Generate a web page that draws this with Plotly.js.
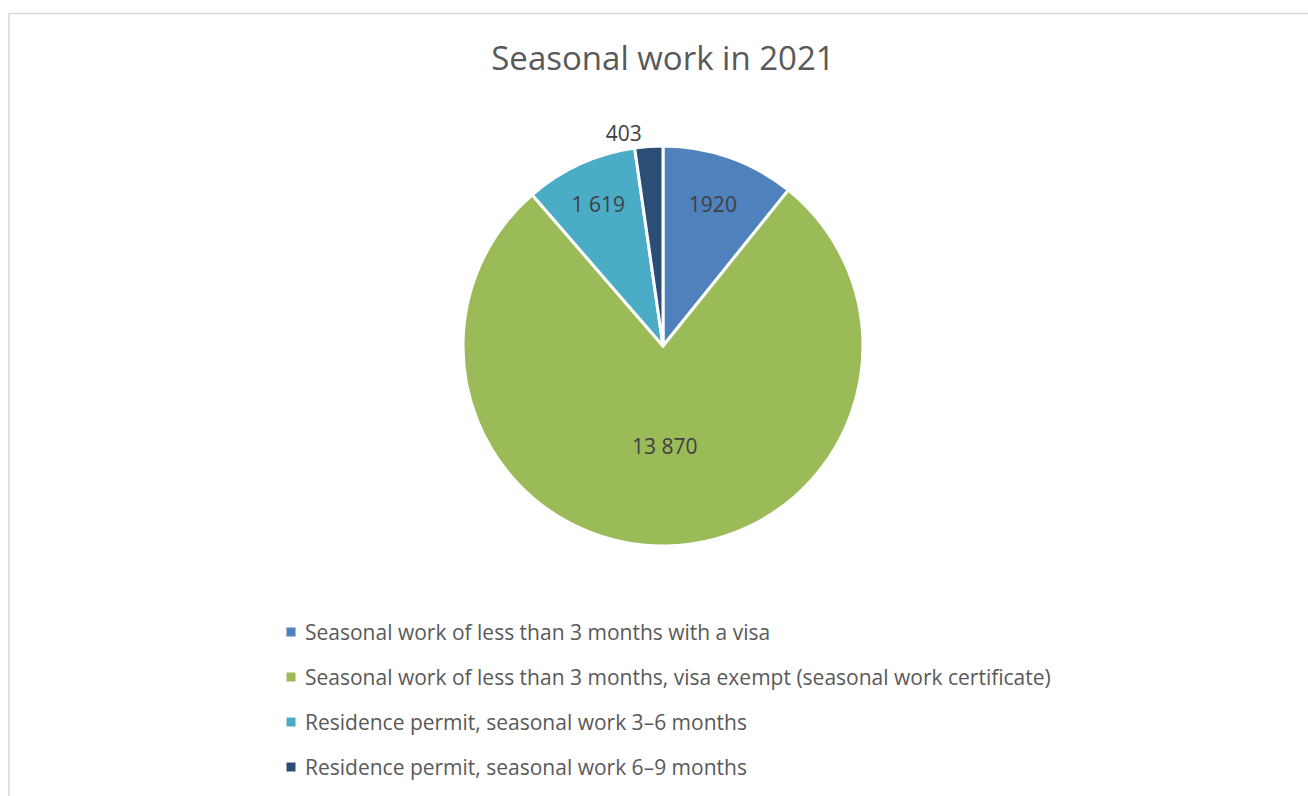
<!DOCTYPE html>
<html>
<head>
<meta charset="utf-8">
<script src="https://cdn.plot.ly/plotly-3.0.1.min.js"></script>
<style>
  html, body { margin: 0; padding: 0; background: #fff; }
  #chart { width: 1308px; height: 796px; }
</style>
</head>
<body>
<div id="chart"></div>
<script>
const chartTitle = "Seasonal work in 2021";
const categories = [
  "Seasonal work of less than 3 months with a visa",
  "Seasonal work of less than 3 months, visa exempt (seasonal work certificate)",
  "Residence permit, seasonal work 3\u20136 months",
  "Residence permit, seasonal work 6\u20139 months"
];
const values = [1920, 13870, 1619, 403];
const valueLabels = ["1920", "13 870", "1 619", "403"];
const colors = ["#4F81BD", "#9BBB59", "#4BACC6", "#2C4D75"];

const W = 1308, H = 796;
const FONT = "'Open Sans', 'Noto Sans', sans-serif";

const trace = {
  type: "pie",
  labels: categories,
  values: values,
  text: valueLabels,
  textinfo: "text",
  textposition: ["inside", "inside", "inside", "outside"],
  insidetextorientation: "horizontal",
  sort: false,
  direction: "clockwise",
  rotation: 0,
  marker: { colors: colors, line: { color: "#ffffff", width: 3 } },
  textfont: { family: FONT, size: 21, color: "#404040" },
  insidetextfont: { family: FONT, size: 21, color: "#404040" },
  outsidetextfont: { family: FONT, size: 21, color: "#404040" },
  hoverinfo: "label+value",
  showlegend: false,
  domain: { x: [463 / W, 863 / W], y: [1 - 546 / H, 1 - 146 / H] }
};

// Legend drawn as annotations + square shapes (built from categories/colors)
const legendTop = 632, legendStep = 45, markerX = 291, textX = 303, msize = 9;
const annotations = [];
const shapes = [
  { type: "rect", xref: "paper", yref: "paper",
    x0: 9 / W, x1: 1.02, y0: -0.02, y1: 1 - 13.5 / H,
    line: { color: "#D9D9D9", width: 1.5 }, fillcolor: "rgba(0,0,0,0)", layer: "below" }
];
categories.forEach((c, i) => {
  const yc = legendTop + i * legendStep;
  annotations.push({
    xref: "paper", yref: "paper", x: textX / W, y: 1 - yc / H,
    xanchor: "left", yanchor: "middle", showarrow: false, text: c,
    font: { family: FONT, size: 21, color: "#595959" }
  });
  shapes.push({
    type: "rect", xref: "paper", yref: "paper",
    x0: (markerX - msize / 2) / W, x1: (markerX + msize / 2) / W,
    y0: 1 - (yc + msize / 2) / H, y1: 1 - (yc - msize / 2) / H,
    fillcolor: colors[i], line: { width: 0 }
  });
});

const layout = {
  width: W, height: H,
  margin: { l: 0, r: 0, t: 0, b: 0 },
  paper_bgcolor: "#ffffff",
  title: {
    text: chartTitle, x: 663 / W, xanchor: "center",
    y: 1 - 58 / H, yanchor: "middle", yref: "container",
    font: { family: FONT, size: 33, color: "#595959" }
  },
  showlegend: false,
  annotations: annotations,
  shapes: shapes
};

Plotly.newPlot("chart", [trace], layout, { displayModeBar: false });
</script>
</body>
</html>
